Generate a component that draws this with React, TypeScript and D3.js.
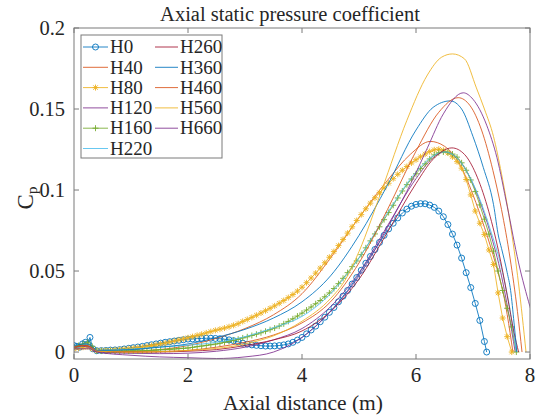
import React from 'react';
import * as d3 from 'd3';

const W = 544;
const H = 416;
const PL = 74, PR = 530, PT = 28, PB = 359;

const xTicks = [0, 2, 4, 6, 8];
const xTickLabels = ['0', '2', '4', '6', '8'];
const yTicks = [0, 0.05, 0.1, 0.15, 0.2];
const yTickLabels = ['0', '0.05', '0.1', '0.15', '0.2'];

type P = [number, number];

const H0: P[] = [
  [0, 0.004], [0.05, 0.0035], [0.1, 0.003], [0.15, 0.005], [0.2, 0.006], [0.24, 0.005], [0.28, 0.009], [0.33, 0.002], [0.4, 0.0008],
  [0.48, 0.0009], [0.56, 0.001], [0.64, 0.0012], [0.72, 0.0013], [0.8, 0.0015], [0.88, 0.0019], [0.96, 0.0023], [1.04, 0.0027],
  [1.12, 0.0031], [1.2, 0.0035], [1.28, 0.004], [1.36, 0.0045], [1.44, 0.005], [1.52, 0.0055], [1.6, 0.006], [1.68, 0.0064],
  [1.76, 0.0068], [1.84, 0.0072], [1.92, 0.0076], [2.0, 0.008], [2.08, 0.0081], [2.16, 0.0083], [2.24, 0.0084], [2.32, 0.0085],
  [2.4, 0.0085], [2.48, 0.0084], [2.56, 0.0082], [2.64, 0.0079], [2.72, 0.0075], [2.8, 0.007], [2.88, 0.0063], [2.96, 0.0055],
  [3.04, 0.0049], [3.12, 0.0044], [3.2, 0.0041], [3.28, 0.0039], [3.36, 0.0037], [3.44, 0.0037], [3.52, 0.0038], [3.6, 0.004],
  [3.68, 0.0044], [3.76, 0.005], [3.84, 0.006], [3.92, 0.0074], [4.0, 0.009], [4.08, 0.0112], [4.16, 0.0136], [4.24, 0.016],
  [4.32, 0.0187], [4.4, 0.0215], [4.48, 0.0245], [4.56, 0.0275], [4.64, 0.031], [4.72, 0.0345], [4.8, 0.038], [4.88, 0.042],
  [4.96, 0.046], [5.04, 0.0505], [5.12, 0.0548], [5.2, 0.059], [5.28, 0.0633], [5.36, 0.0677], [5.44, 0.072], [5.52, 0.076],
  [5.6, 0.0795], [5.68, 0.0828], [5.76, 0.0858], [5.84, 0.0882], [5.92, 0.09], [6.0, 0.0911], [6.08, 0.0916], [6.16, 0.0915],
  [6.24, 0.0907], [6.32, 0.0893], [6.4, 0.087], [6.48, 0.0835], [6.56, 0.0787], [6.64, 0.0728], [6.72, 0.066], [6.8, 0.058],
  [6.88, 0.049], [6.96, 0.0398], [7.04, 0.03], [7.12, 0.0195], [7.2, 0.0065], [7.24, 0.0],
];

const H40: P[] = [
  [0, 0.003], [0.1, 0.004], [0.2, 0.005], [0.28, 0.0045], [0.35, 0.001], [0.5, 0.0002], [1.0, 0.0003], [1.5, 0.0015], [2.0, 0.004],
  [2.5, 0.0085], [3.0, 0.0145], [3.5, 0.023], [4.0, 0.036], [4.5, 0.058], [5.0, 0.083], [5.5, 0.106], [5.9, 0.122], [6.25, 0.13],
  [6.5, 0.127], [6.75, 0.117], [7.0, 0.097], [7.2, 0.077], [7.4, 0.054], [7.55, 0.033], [7.65, 0.012], [7.7, 0.0],
];

const H80: P[] = [
  [0, 0.002], [0.08, 0.0025], [0.16, 0.003], [0.24, 0.0035], [0.32, 0.002], [0.4, 0.0008],
  [0.48, 0.0009], [0.56, 0.001], [0.64, 0.0011], [0.72, 0.0013], [0.8, 0.0015], [0.88, 0.0018], [0.96, 0.0021], [1.04, 0.0024],
  [1.12, 0.0027], [1.2, 0.003], [1.28, 0.0035], [1.36, 0.004], [1.44, 0.0045], [1.52, 0.005], [1.6, 0.0055], [1.68, 0.0062],
  [1.76, 0.0068], [1.84, 0.0075], [1.92, 0.0081], [2.0, 0.0088], [2.08, 0.0095], [2.16, 0.0103], [2.24, 0.011], [2.32, 0.0118],
  [2.4, 0.0126], [2.48, 0.0134], [2.56, 0.0141], [2.64, 0.0148], [2.72, 0.0156], [2.8, 0.0165], [2.88, 0.0175], [2.96, 0.0189],
  [3.04, 0.0201], [3.12, 0.0214], [3.2, 0.0227], [3.28, 0.0241], [3.36, 0.0255], [3.44, 0.027], [3.52, 0.0285], [3.6, 0.0301],
  [3.68, 0.0318], [3.76, 0.0336], [3.84, 0.0355], [3.92, 0.0376], [4.0, 0.04], [4.08, 0.0428], [4.16, 0.0457], [4.24, 0.0487],
  [4.32, 0.0518], [4.4, 0.0551], [4.48, 0.0585], [4.56, 0.062], [4.64, 0.0657], [4.72, 0.0695], [4.8, 0.0734], [4.88, 0.0773],
  [4.96, 0.0812], [5.04, 0.0848], [5.12, 0.0884], [5.2, 0.0919], [5.28, 0.0952], [5.36, 0.0983], [5.44, 0.1013], [5.52, 0.1042],
  [5.6, 0.107], [5.68, 0.1097], [5.76, 0.1122], [5.84, 0.1145], [5.92, 0.1167], [6.0, 0.1187], [6.08, 0.1205], [6.16, 0.1222],
  [6.24, 0.1237], [6.32, 0.1248], [6.4, 0.1252], [6.48, 0.1245], [6.56, 0.1228], [6.64, 0.1205], [6.72, 0.1175], [6.8, 0.1135],
  [6.88, 0.1065], [6.96, 0.097], [7.04, 0.087], [7.12, 0.0795], [7.2, 0.0725], [7.28, 0.063], [7.36, 0.054], [7.44, 0.0365],
  [7.52, 0.021], [7.6, 0.0095], [7.68, 0.0],
];

const H120: P[] = [
  [0, 0.002], [0.15, 0.0035], [0.25, 0.003], [0.35, 0.0005], [0.5, -0.0003], [1.0, -0.0008], [1.5, -0.001], [2.0, -0.0007],
  [2.5, 0.0005], [3.0, 0.003], [3.5, 0.0075], [4.0, 0.0145], [4.5, 0.028], [5.0, 0.049], [5.5, 0.078], [6.0, 0.107], [6.3, 0.12],
  [6.5, 0.1235], [6.7, 0.1205], [6.9, 0.111], [7.1, 0.095], [7.3, 0.074], [7.5, 0.047], [7.62, 0.025], [7.74, 0.0],
];

const H160: P[] = [
  [0, 0.003], [0.08, 0.004], [0.16, 0.005], [0.24, 0.006], [0.32, 0.0035], [0.4, 0.0008],
  [0.48, 0.0007], [0.56, 0.0006], [0.64, 0.0006], [0.72, 0.0005], [0.8, 0.0005], [0.88, 0.0006], [0.96, 0.0006], [1.04, 0.0007],
  [1.12, 0.0007], [1.2, 0.0008], [1.28, 0.0009], [1.36, 0.0011], [1.44, 0.0012], [1.52, 0.0014], [1.6, 0.0015], [1.68, 0.0017],
  [1.76, 0.0019], [1.84, 0.0021], [1.92, 0.0023], [2.0, 0.0025], [2.08, 0.0029], [2.16, 0.0033], [2.24, 0.0037], [2.32, 0.0041],
  [2.4, 0.0045], [2.48, 0.0049], [2.56, 0.0054], [2.64, 0.006], [2.72, 0.0066], [2.8, 0.0072], [2.88, 0.0079], [2.96, 0.0087],
  [3.04, 0.0094], [3.12, 0.0102], [3.2, 0.011], [3.28, 0.0119], [3.36, 0.0128], [3.44, 0.0138], [3.52, 0.0148], [3.6, 0.016],
  [3.68, 0.0174], [3.76, 0.0189], [3.84, 0.0205], [3.92, 0.0222], [4.0, 0.024], [4.08, 0.0259], [4.16, 0.0278], [4.24, 0.0298],
  [4.32, 0.0318], [4.4, 0.0341], [4.48, 0.0365], [4.56, 0.0392], [4.64, 0.0422], [4.72, 0.0455], [4.8, 0.049], [4.88, 0.0527],
  [4.96, 0.0562], [5.04, 0.0601], [5.12, 0.0643], [5.2, 0.0686], [5.28, 0.0729], [5.36, 0.0773], [5.44, 0.0817], [5.52, 0.0861],
  [5.6, 0.0906], [5.68, 0.0951], [5.76, 0.0994], [5.84, 0.1033], [5.92, 0.1068], [6.0, 0.11], [6.08, 0.1132], [6.16, 0.1162],
  [6.24, 0.1192], [6.32, 0.1217], [6.4, 0.123], [6.48, 0.1235], [6.56, 0.1233], [6.64, 0.1222], [6.72, 0.1203], [6.8, 0.1168],
  [6.88, 0.1122], [6.96, 0.1062], [7.04, 0.0991], [7.12, 0.0908], [7.2, 0.082], [7.28, 0.0728], [7.36, 0.0623], [7.44, 0.05],
  [7.52, 0.038], [7.6, 0.027], [7.68, 0.0155], [7.76, 0.0],
];

const H220: P[] = [
  [0, 0.004], [0.1, 0.003], [0.2, 0.005], [0.3, 0.003], [0.4, 0.001], [1.0, 0.0018], [1.5, 0.003], [2.0, 0.0042], [2.5, 0.006],
  [3.0, 0.0095], [3.5, 0.015], [4.0, 0.022], [4.5, 0.036], [5.0, 0.058], [5.5, 0.086], [6.0, 0.111], [6.3, 0.121], [6.5, 0.1235],
  [6.7, 0.1205], [6.9, 0.111], [7.1, 0.096], [7.3, 0.076], [7.5, 0.052], [7.65, 0.026], [7.76, 0.0],
];

const H260: P[] = [
  [0, 0.003], [0.2, 0.004], [0.3, 0.003], [0.4, 0.0005], [1.0, 0.0], [1.5, 0.0], [2.0, 0.0005], [2.5, 0.0015], [3.0, 0.004],
  [3.5, 0.0075], [4.0, 0.013], [4.5, 0.025], [5.0, 0.045], [5.5, 0.074], [6.0, 0.104], [6.3, 0.119], [6.63, 0.126], [6.85, 0.122],
  [7.05, 0.11], [7.25, 0.09], [7.45, 0.062], [7.6, 0.035], [7.72, 0.012], [7.8, 0.0],
];

const H360: P[] = [
  [0, 0.004], [0.2, 0.005], [0.3, 0.004], [0.4, 0.001], [1.0, 0.0015], [1.5, 0.003], [2.0, 0.005], [2.5, 0.009], [3.0, 0.014],
  [3.5, 0.021], [4.0, 0.031], [4.5, 0.047], [5.0, 0.072], [5.5, 0.103], [6.0, 0.137], [6.3, 0.151], [6.6, 0.155], [6.8, 0.15],
  [7.0, 0.133], [7.18, 0.114], [7.36, 0.091], [7.45, 0.071], [7.5, 0.064], [7.6, 0.049], [7.66, 0.038], [7.72, 0.018], [7.77, 0.0],
];

const H460: P[] = [
  [0, 0.003], [0.2, 0.004], [0.3, 0.003], [0.4, 0.0005], [1.0, 0.0], [1.5, 0.0003], [2.0, 0.001], [2.5, 0.003], [3.0, 0.006],
  [3.5, 0.0105], [4.0, 0.018], [4.5, 0.031], [5.0, 0.055], [5.5, 0.088], [6.0, 0.124], [6.4, 0.148], [6.74, 0.157], [6.95, 0.152],
  [7.15, 0.137], [7.35, 0.112], [7.5, 0.088], [7.65, 0.058], [7.78, 0.025], [7.86, 0.0],
];

const H560: P[] = [
  [0, 0.002], [0.3, 0.002], [0.4, 0.0005], [1.0, 0.0], [2.0, 0.001], [3.0, 0.005], [3.5, 0.01], [4.0, 0.019], [4.5, 0.033],
  [4.75, 0.044], [5.0, 0.062], [5.4, 0.1], [5.84, 0.143], [6.2, 0.171], [6.45, 0.182], [6.64, 0.184], [6.85, 0.181], [7.06, 0.163],
  [7.2, 0.15], [7.36, 0.133], [7.5, 0.11], [7.65, 0.08], [7.8, 0.042], [7.93, 0.0],
];

const H660: P[] = [
  [0, 0.002], [0.3, 0.002], [0.4, 0.0], [1.0, -0.002], [1.5, -0.003], [2.0, -0.0035], [2.5, -0.004], [3.0, -0.003], [3.5, 0.0],
  [4.0, 0.009], [4.5, 0.025], [5.0, 0.047], [5.5, 0.077], [5.95, 0.107], [6.2, 0.126], [6.48, 0.147], [6.83, 0.16], [7.0, 0.156],
  [7.24, 0.14], [7.42, 0.12], [7.6, 0.09], [7.8, 0.055], [8.0, 0.028], [8.05, 0.022],
];

const seriesNames = ['H0', 'H40', 'H80', 'H120', 'H160', 'H220', 'H260', 'H360', 'H460', 'H560', 'H660'];
const seriesData = [H0, H40, H80, H120, H160, H220, H260, H360, H460, H560, H660];
const seriesColors = ['#0072BD', '#D95319', '#EDB120', '#7E2F8E', '#77AC30', '#4DBEEE', '#A2142F', '#0072BD', '#D95319', '#EDB120', '#7E2F8E'];
const seriesMarkers = ['o', '', '*', '', '+', '', '', '', '', '', ''];

const FONT = '"Liberation Serif", "Times New Roman", serif';

function Marker({ type, x, y, color }: { type: string; x: number; y: number; color: string }) {
  if (type === 'o') return <circle cx={x} cy={y} r={3} fill="none" stroke={color} strokeWidth={0.9} />;
  const s = 3;
  if (type === '+')
    return (
      <path d={`M${x - s},${y}H${x + s}M${x},${y - s}V${y + s}`} stroke={color} strokeWidth={0.9} fill="none" />
    );
  if (type === '*') {
    const d = s * 0.75;
    return (
      <path
        d={`M${x - s},${y}H${x + s}M${x},${y - s}V${y + s}M${x - d},${y - d}L${x + d},${y + d}M${x - d},${y + d}L${x + d},${y - d}`}
        stroke={color}
        strokeWidth={0.9}
        fill="none"
      />
    );
  }
  return null;
}

export default function App() {
  const x = d3.scaleLinear().domain([0, 8]).range([PL, PR]);
  const y = d3.scaleLinear().domain([-0.0043, 0.2]).range([PB, PT]);

  const series = seriesNames.map((name, i) => ({
    name,
    data: seriesData[i],
    color: seriesColors[i],
    marker: seriesMarkers[i],
  }));

  const lineLinear = d3.line<P>().x((d) => x(d[0])).y((d) => y(d[1]));
  const lineSmooth = d3
    .line<P>()
    .x((d) => x(d[0]))
    .y((d) => y(d[1]))
    .curve(d3.curveMonotoneX);

  const axisColor = '#7a7a7a';
  const tickLen = 5;

  const legX = 81, legY = 35, legW = 141, legH = 123;
  const rowH = 20.3;
  const legendItems = series.map((s, i) => {
    const col = i < 6 ? 0 : 1;
    const row = i < 6 ? i : i - 6;
    return { ...s, col, row };
  });

  return (
    <svg
      width={W}
      height={H}
      viewBox={`0 0 ${W} ${H}`}
      style={{ position: 'absolute', left: 0, top: 0, background: '#fff' }}
      fontFamily={FONT}
    >
      <rect x={0} y={0} width={W} height={H} fill="#fff" />
      <defs>
        <clipPath id="plotClip">
          <rect x={PL} y={PT} width={PR - PL} height={PB - PT} />
        </clipPath>
      </defs>

      <g clipPath="url(#plotClip)">
        {series.map((s) => (
          <g key={s.name}>
            <path
              d={(s.marker ? lineLinear : lineSmooth)(s.data) || ''}
              fill="none"
              stroke={s.color}
              strokeWidth={1}
              strokeOpacity={0.85}
            />
            {s.marker &&
              s.data.map((d, j) => (
                <Marker key={j} type={s.marker} x={x(d[0])} y={y(d[1])} color={s.color} />
              ))}
          </g>
        ))}
      </g>

      <rect x={PL} y={PT} width={PR - PL} height={PB - PT} fill="none" stroke={axisColor} strokeWidth={1} />
      {xTicks.map((t) => (
        <g key={'xt' + t}>
          <line x1={x(t)} x2={x(t)} y1={PB} y2={PB - tickLen} stroke={axisColor} />
          <line x1={x(t)} x2={x(t)} y1={PT} y2={PT + tickLen} stroke={axisColor} />
        </g>
      ))}
      {yTicks.map((t) => (
        <g key={'yt' + t}>
          <line x1={PL} x2={PL + tickLen} y1={y(t)} y2={y(t)} stroke={axisColor} />
          <line x1={PR} x2={PR - tickLen} y1={y(t)} y2={y(t)} stroke={axisColor} />
        </g>
      ))}
      {xTicks.map((t, i) => (
        <text key={'xl' + t} x={x(t)} y={382} fontSize={21} textAnchor="middle" fill="#262626">
          {xTickLabels[i]}
        </text>
      ))}
      {yTicks.map((t, i) => (
        <text key={'yl' + t} x={PL - 9} y={y(t)} dy="0.33em" fontSize={20.5} textAnchor="end" fill="#262626">
          {yTickLabels[i]}
        </text>
      ))}

      <text x={290} y={21} fontSize={20.5} textAnchor="middle" fill="#262626">
        Axial static pressure coefficient
      </text>
      <text x={303} y={410} fontSize={21.5} textAnchor="middle" fill="#262626">
        Axial distance (m)
      </text>
      <text transform="translate(33,198) rotate(-90)" fontSize={23} textAnchor="middle" fill="#262626">
        C<tspan fontSize={15} dy={4}>p</tspan>
      </text>

      <rect x={legX} y={legY} width={legW} height={legH} fill="#fff" stroke={axisColor} strokeWidth={1} />
      {legendItems.map((s) => {
        const lx1 = s.col === 0 ? 83 : 155;
        const lx2 = s.col === 0 ? 108 : 178;
        const cy = 47 + s.row * rowH;
        return (
          <g key={'lg' + s.name}>
            <line x1={lx1} x2={lx2} y1={cy} y2={cy} stroke={s.color} strokeWidth={1} strokeOpacity={0.85} />
            {s.marker && <Marker type={s.marker} x={(lx1 + lx2) / 2} y={cy} color={s.color} />}
            <text x={lx2 + 2} y={cy} dy="0.33em" fontSize={19} fill="#262626">
              {s.name}
            </text>
          </g>
        );
      })}
    </svg>
  );
}
